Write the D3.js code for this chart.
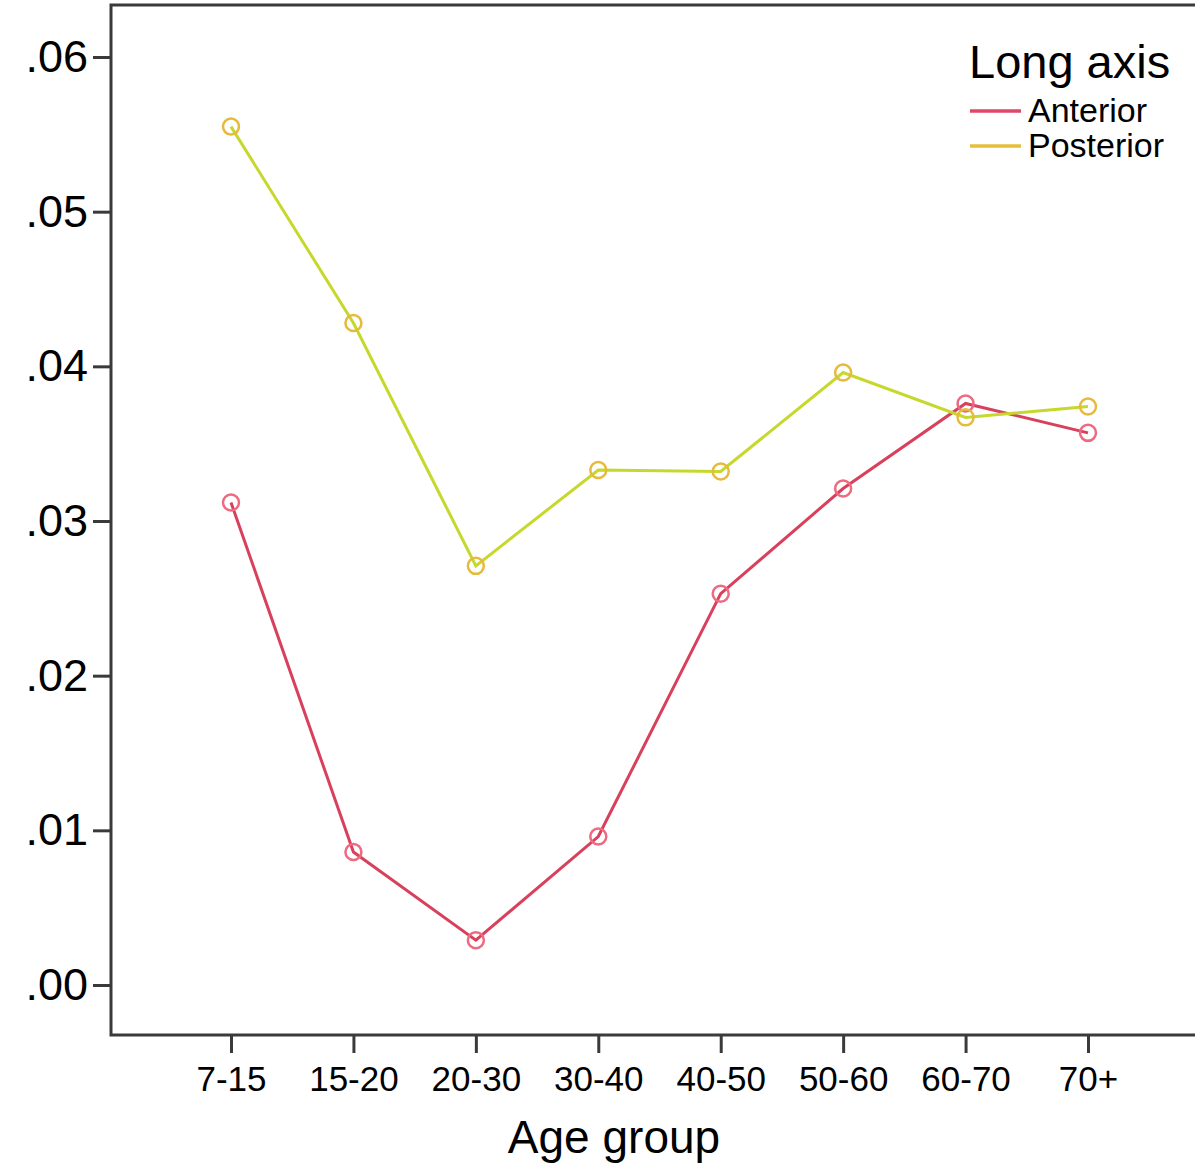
<!DOCTYPE html>
<html>
<head>
<meta charset="utf-8">
<script src="https://cdn.jsdelivr.net/npm/d3@7"></script>
<style>
  body { margin: 0; background: #fff; }
  text { font-family: "Liberation Sans", Arial, sans-serif; fill: #000; }
</style>
</head>
<body>
<svg id="chart" width="1195" height="1173"></svg>
<script>
// age groups on the x axis
const ageGroups = ["7-15", "15-20", "20-30", "30-40", "40-50", "50-60", "60-70", "70+"];
const anterior  = [0.0312, 0.0086, 0.0029, 0.0096, 0.0253, 0.0321, 0.0376, 0.0357];
const posterior = [0.0555, 0.0428, 0.0271, 0.0333, 0.0332, 0.0396, 0.0367, 0.0374];
const yTicks = [0, 0.01, 0.02, 0.03, 0.04, 0.05, 0.06];

const series = [
  { name: "Anterior",  values: anterior,  line: "#d8405c", marker: "#ee6a80", legend: "#e04668" },
  { name: "Posterior", values: posterior, line: "#c6d82c", marker: "#e6ba3c", legend: "#e6bf3a" }
];

const svg = d3.select("#chart");

const frameL = 111, frameT = 5, frameB = 1035, frameR = 1195;

const x = d3.scalePoint().domain(ageGroups).range([231, 1088]);
const y = d3.scaleLinear().domain([0, 0.06]).range([985, 57]);

const fmt = v => d3.format(".2f")(v).replace(/^0/, "");

// frame: top, left, bottom lines
svg.append("path")
  .attr("d", `M${frameR},${frameT}H${frameL}V${frameB}H${frameR}`)
  .attr("fill", "none")
  .attr("stroke", "#3a3a3a")
  .attr("stroke-width", 3);

// y axis
const yAxis = svg.append("g")
  .attr("transform", `translate(${frameL},0)`)
  .call(d3.axisLeft(y).tickValues(yTicks).tickFormat(fmt).tickSize(18).tickPadding(5));
yAxis.select(".domain").remove();
yAxis.selectAll(".tick line").attr("stroke", "#3a3a3a").attr("stroke-width", 3);
yAxis.selectAll(".tick text")
  .attr("font-size", 45)
  .attr("font-family", "Liberation Sans, Arial, sans-serif")
  .attr("fill", "#000");

// x axis
const xAxis = svg.append("g")
  .attr("transform", `translate(0,${frameB})`)
  .call(d3.axisBottom(x).tickSize(18).tickPadding(13));
xAxis.select(".domain").remove();
xAxis.selectAll(".tick line").attr("stroke", "#3a3a3a").attr("stroke-width", 3);
xAxis.selectAll(".tick text")
  .attr("font-size", 35)
  .attr("font-family", "Liberation Sans, Arial, sans-serif")
  .attr("fill", "#000");

svg.append("text")
  .attr("x", 614)
  .attr("y", 1153)
  .attr("text-anchor", "middle")
  .attr("font-size", 46)
  .text("Age group");

// lines + markers
const line = d3.line()
  .x((d, i) => x(ageGroups[i]))
  .y(d => y(d));

series.forEach(s => {
  svg.append("path")
    .datum(s.values)
    .attr("d", line)
    .attr("fill", "none")
    .attr("stroke", s.line)
    .attr("stroke-width", 3);
});

series.forEach(s => {
  svg.append("g")
    .selectAll("circle")
    .data(s.values)
    .join("circle")
    .attr("cx", (d, i) => x(ageGroups[i]))
    .attr("cy", d => y(d))
    .attr("r", 8)
    .attr("fill", "none")
    .attr("stroke", s.marker)
    .attr("stroke-width", 2.5);
});

// legend
const legend = svg.append("g");
legend.append("text")
  .attr("x", 969)
  .attr("y", 78)
  .attr("font-size", 47)
  .text("Long axis");

series.forEach((s, i) => {
  const ly = 111 + i * 35;
  legend.append("line")
    .attr("x1", 970).attr("x2", 1021)
    .attr("y1", ly).attr("y2", ly)
    .attr("stroke", s.legend)
    .attr("stroke-width", 3.5);
  legend.append("text")
    .attr("x", 1028)
    .attr("y", ly + 11)
    .attr("font-size", 34)
    .text(s.name);
});
</script>
</body>
</html>
